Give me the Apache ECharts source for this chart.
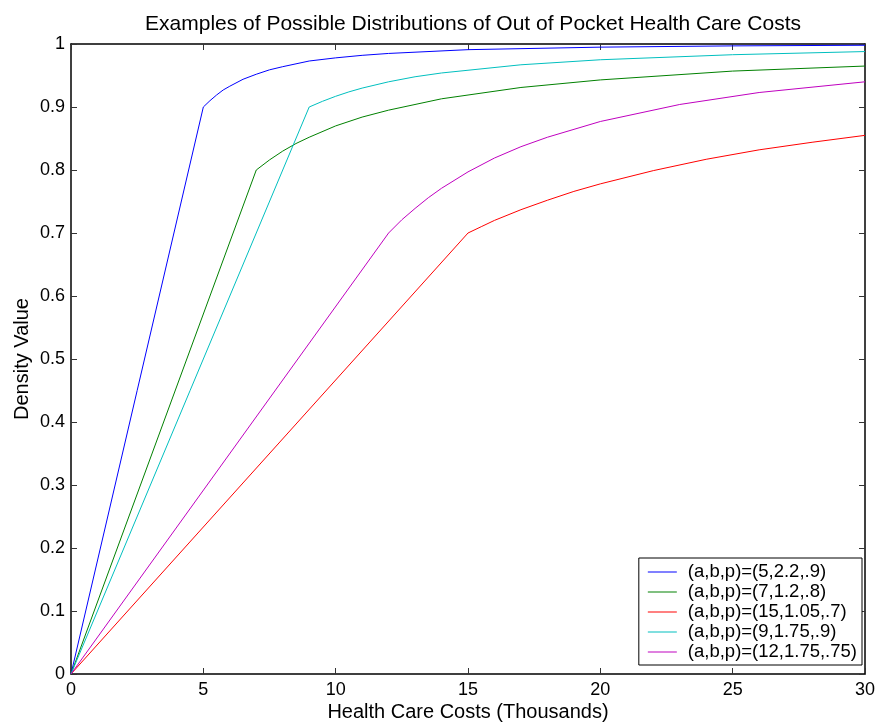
<!DOCTYPE html>
<html>
<head>
<meta charset="utf-8">
<title>Out of Pocket Health Care Costs</title>
<script src="https://cdn.jsdelivr.net/npm/echarts@6/dist/echarts.min.js"></script>
<style>
  html, body { margin: 0; padding: 0; background: #fff; }
  #chart { width: 876px; height: 724px; }
</style>
</head>
<body>
<div id="chart"></div>
<script>
// values, [cost in thousands, density value]
var seriesNames = ['(a,b,p)=(5,2.2,.9)', '(a,b,p)=(7,1.2,.8)', '(a,b,p)=(15,1.05,.7)', '(a,b,p)=(9,1.75,.9)', '(a,b,p)=(12,1.75,.75)'];
var seriesColors = ['#0000ff', '#008000', '#ff0000', '#00bfbf', '#bf00bf'];

var blueData = [[0, 0], [5, 0.9], [5.25, 0.910], [5.5, 0.919], [5.75, 0.927], [6, 0.933], [6.5, 0.944], [7, 0.952], [7.5, 0.959], [8, 0.964], [9, 0.973], [10, 0.978], [11, 0.982], [12, 0.985], [15, 0.991], [20, 0.995], [25, 0.997], [30, 0.998]];
var greenData = [[0, 0], [7, 0.8], [7.5, 0.816], [8, 0.830], [8.5, 0.842], [9, 0.852], [10, 0.870], [11, 0.884], [12, 0.895], [14, 0.913], [17, 0.931], [20, 0.943], [25, 0.957], [30, 0.965]];
var redData = [[0, 0], [15, 0.7], [15.5, 0.710], [16, 0.720], [17, 0.737], [18, 0.752], [19, 0.766], [20, 0.778], [22, 0.799], [24, 0.817], [26, 0.832], [28, 0.844], [30, 0.855]];
var cyanData = [[0, 0], [9, 0.9], [9.5, 0.909], [10, 0.917], [10.5, 0.924], [11, 0.930], [12, 0.940], [13, 0.948], [14, 0.954], [17, 0.967], [20, 0.975], [25, 0.983], [30, 0.988]];
var magentaData = [[0, 0], [12, 0.7], [12.5, 0.721], [13, 0.739], [13.5, 0.756], [14, 0.771], [15, 0.797], [16, 0.819], [17, 0.837], [18, 0.852], [20, 0.877], [23, 0.904], [26, 0.923], [30, 0.940]];

var allData = [blueData, greenData, redData, cyanData, magentaData];
var font = 'Liberation Sans, Arial, Helvetica, sans-serif';

var myChart = echarts.init(document.getElementById('chart'));

var series = allData.map(function (d, i) {
  return {
    name: seriesNames[i],
    type: 'line',
    data: d,
    symbol: 'none',
    smooth: false,
    lineStyle: {color: seriesColors[i], width: 1},
    itemStyle: {color: seriesColors[i]}
  };
});

var tickStyle = {show: true, inside: true, length: 6, lineStyle: {color: '#333', width: 1}};
var lineStyle = {show: true, onZero: false, lineStyle: {color: '#000', width: 1.5}};

myChart.setOption({
  animation: false,
  title: {
    text: 'Examples of Possible Distributions of Out of Pocket Health Care Costs',
    left: 468,
    top: 9,
    textAlign: 'center',
    textStyle: {fontFamily: font, fontSize: 21, fontWeight: 'normal', color: '#000'}
  },
  legend: {
    orient: 'vertical',
    right: 14,
    bottom: 59,
    padding: [4, 5, 3, 9],
    itemGap: 0,
    itemWidth: 29,
    itemHeight: 1,
    icon: 'rect',
    borderColor: '#000',
    borderWidth: 1,
    borderRadius: 0,
    backgroundColor: '#fff',
    data: seriesNames,
    textStyle: {fontFamily: font, fontSize: 18.5, lineHeight: 20, color: '#000', padding: [0, 0, 0, 6]}
  },
  grid: {left: 71, right: 11, top: 44, bottom: 50, containLabel: false, outerBoundsMode: 'none'},
  xAxis: [{
    type: 'value',
    min: 0, max: 30, interval: 5,
    name: 'Health Care Costs (Thousands)',
    nameLocation: 'middle',
    nameGap: 28,
    nameMoveOverlap: false,
    nameTextStyle: {fontFamily: font, fontSize: 20, color: '#000'},
    axisLine: lineStyle,
    axisTick: tickStyle,
    axisLabel: {fontFamily: font, fontSize: 18, color: '#000', margin: 7},
    splitLine: {show: false}
  }, {
    type: 'value',
    position: 'top',
    min: 0, max: 30, interval: 5,
    axisLine: lineStyle,
    axisTick: tickStyle,
    axisLabel: {show: false},
    splitLine: {show: false}
  }],
  yAxis: [{
    type: 'value',
    min: 0, max: 1, interval: 0.1,
    name: 'Density Value',
    nameLocation: 'middle',
    nameGap: 39,
    nameMoveOverlap: false,
    nameTextStyle: {fontFamily: font, fontSize: 20, color: '#000'},
    axisLine: lineStyle,
    axisTick: tickStyle,
    axisLabel: {fontFamily: font, fontSize: 18, color: '#000', margin: 6},
    splitLine: {show: false}
  }, {
    type: 'value',
    position: 'right',
    min: 0, max: 1, interval: 0.1,
    axisLine: lineStyle,
    axisTick: tickStyle,
    axisLabel: {show: false},
    splitLine: {show: false}
  }],
  series: series
});
</script>
</body>
</html>
